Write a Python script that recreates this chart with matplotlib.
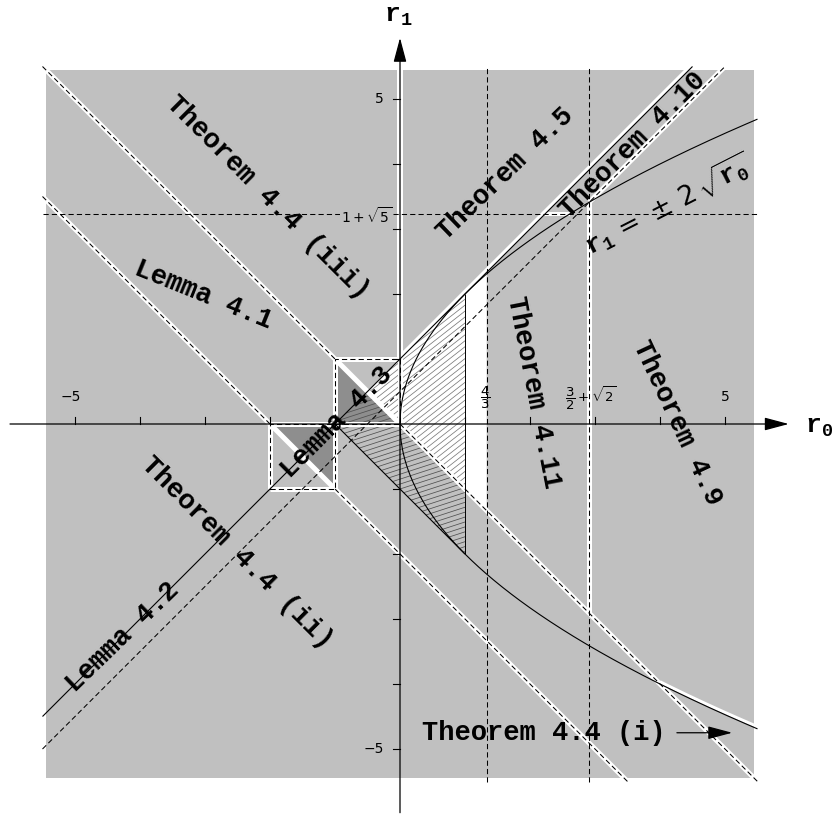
import numpy as np
import matplotlib
matplotlib.use("Agg")
import matplotlib.pyplot as plt
from matplotlib.patches import Polygon, Rectangle

plt.rcParams['mathtext.fontset'] = 'custom'
plt.rcParams['mathtext.rm'] = 'DejaVu Sans'
plt.rcParams['mathtext.it'] = 'DejaVu Sans:italic'
plt.rcParams['mathtext.tt'] = 'Liberation Mono:bold'

# ---------------- data ----------------
axis_ticks = [-5, -4, -3, -2, -1, 1, 2, 3, 4, 5]
labeled_ticks = [-5, 5]
half_width = 5.45          # shaded square
line_extent = 5.5          # reach of the boundary lines
axis_extent = 6.0
r0_four_thirds = 4 / 3
r0_crit = 1.5 + np.sqrt(2)   # r1 = r0 + 1/2 meets the parabola
r1_crit = 1 + np.sqrt(5)
tangent_up = 1.0            # r1 = r0 + 1   (tangent to parabola at (1, 2))
tangent_dn = -1.0           # r1 = -r0 - 1  (tangent to parabola at (1, -2))
tangent_r0 = 1.0
mid_intercept = 0.5         # r1 = r0 + 1/2
anti_intercepts = [0.0, -2.0]   # r1 = -r0 + c
box_corners = [(-1.0, 0.0), (-2.0, -1.0)]   # unit squares (lower-left corners)
parabola_white_from = 4.0
region_texts = ["Theorem 4.4 (iii)", "Lemma 4.1", "Theorem 4.5", "Theorem 4.10",
                "Theorem 4.11", "Theorem 4.9", "Lemma 4.3", "Lemma 4.2",
                "Theorem 4.4 (ii)", "Theorem 4.4 (i)"]

GRAY = '#c0c0c0'
DARK = '#8e8e8e'
PT = 0.72          # points per pixel at 100 dpi
PX = 1 / 65.0      # data units per pixel

fig = plt.figure(figsize=(8.37, 8.16), dpi=100)
ax = fig.add_axes([0, 0, 1, 1])
ax.set_xlim(-400 * PX, 437 * PX)
ax.set_ylim(-392 * PX, 424 * PX)
ax.axis('off')

DASH = (0, (5, 3))


def white_band(xs, ys, w=5, z=4):
    ax.plot(xs, ys, color='white', lw=w * PT, solid_capstyle='butt', zorder=z)


def dashed(xs, ys, z=5, lw=0.75):
    ax.plot(xs, ys, color='black', lw=lw, linestyle=DASH, zorder=z)


def solid(xs, ys, z=5, lw=0.8):
    ax.plot(xs, ys, color='black', lw=lw, zorder=z, solid_capstyle='butt')


def hatch(pts, angle, spacing, color):
    patch = Polygon(pts, closed=True, facecolor='none', edgecolor='none')
    ax.add_patch(patch)
    pts = np.asarray(pts)
    c = pts.mean(axis=0)
    R = np.max(np.linalg.norm(pts - c, axis=1)) + 0.2
    th = np.deg2rad(angle)
    d = np.array([np.cos(th), np.sin(th)])
    n = np.array([-np.sin(th), np.cos(th)])
    for off in np.arange(-R, R, spacing):
        p0 = c + n * off - d * R
        p1 = c + n * off + d * R
        ln, = ax.plot([p0[0], p1[0]], [p0[1], p1[1]], color=color, lw=0.55, zorder=3)
        ln.set_clip_path(patch)


# ---------------- base shading ----------------
ax.add_patch(Rectangle((-half_width, -half_width), 2 * half_width, 2 * half_width,
                       facecolor=GRAY, edgecolor='none', zorder=1))

# white wedge between r1 = -r0 and r1 = r0 + 1, up to r0 = 4/3
apex_r0 = (anti_intercepts[0] - tangent_up) / 2
apex = (apex_r0, apex_r0 + tangent_up)
ax.add_patch(Polygon([apex,
                      (r0_four_thirds, r0_four_thirds + tangent_up),
                      (r0_four_thirds, -r0_four_thirds + anti_intercepts[0])],
                     closed=True, facecolor='white', edgecolor='none', zorder=2))

# dark halves of the two unit boxes (inside the strip between the anti-diagonals)
bx, by = box_corners[0]
ax.add_patch(Polygon([(bx, by + 1), (bx, by), (bx + 1, by)], closed=True,
                     facecolor=DARK, edgecolor='none', zorder=2))
bx, by = box_corners[1]
ax.add_patch(Polygon([(bx, by + 1), (bx + 1, by + 1), (bx + 1, by)], closed=True,
                     facecolor=DARK, edgecolor='none', zorder=2))

# hatched triangle between the two tangents, r0 <= 1
t_left = (-1.0, 0.0)
hatch_A = [apex, (tangent_r0, tangent_r0 + tangent_up),
           (tangent_r0, -tangent_r0 + anti_intercepts[0])]
hatch_B = [t_left, apex, (tangent_r0, -tangent_r0 + anti_intercepts[0]),
           (tangent_r0, -tangent_r0 + tangent_dn)]
hatch(hatch_A, 38, 0.072, '#7a7a7a')
hatch(hatch_B, 18, 0.072, '#505050')

# ---------------- white boundaries ----------------
E = line_extent
# anti-diagonals r1 = -r0 + c
for c in anti_intercepts:
    lo = max(-E, c - E)
    hi = min(E, c + E)
    xs = np.array([lo, hi])
    white_band(xs, -xs + c)
# box borders
for (bx, by) in box_corners:
    sx = [bx, bx + 1, bx + 1, bx, bx]
    sy = [by, by, by + 1, by + 1, by]
    white_band(sx, sy)
    dashed(sx, sy)
# dashes of anti-diagonals outside the boxes
c0, c1 = anti_intercepts
dashed([-E, box_corners[0][0]], [E + c0, -box_corners[0][0] + c0])
dashed([0, E], [c0, -E + c0])
lo1 = max(-E, c1 - E)
dashed([lo1, box_corners[1][0]], [-lo1 + c1, -box_corners[1][0] + c1])
dashed([box_corners[1][0] + 1, c1 + E], [-(box_corners[1][0] + 1) + c1, -E])

# strip along the r1 axis above the upper box
white_band([0, 0], [box_corners[0][1] + 1, half_width], w=6)
# upper boundary of r1 = r0 + 1 (above the hatch / white wedge)
xs = np.array([0, E - tangent_up])
white_band(xs, xs + tangent_up + 0.04, w=3.5)
# boundary along r1 = 1 + sqrt(5) between the tangent and the parabola
white_band([r1_crit - tangent_up, (r1_crit / 2) ** 2], [r1_crit, r1_crit], w=4)
# vertical boundary at r0 = 3/2 + sqrt(2)
white_band([r0_crit, r0_crit], [-r0_crit, 2 * np.sqrt(r0_crit)], w=5)
# boundary along r1 = r0 + 1/2 beyond the parabola
xs = np.array([r0_crit, E - mid_intercept])
white_band(xs, xs + mid_intercept, w=5)
# lower parabola boundary beyond r0 = 4
pr = np.linspace(parabola_white_from, E, 100)
white_band(pr, -2 * np.sqrt(pr) + 0.035, w=3)

# ---------------- black lines ----------------
xs = np.array([-E, E - tangent_up])
solid(xs, xs + tangent_up)
xs = np.array([t_left[0], tangent_r0])
solid(xs, -xs + tangent_dn)
solid([tangent_r0, tangent_r0], [-tangent_r0 + tangent_dn, tangent_r0 + tangent_up], lw=0.7)
pr = np.linspace(0, E, 600)
solid(pr, 2 * np.sqrt(pr))
solid(pr, -2 * np.sqrt(pr))
xs = np.array([-E, E - mid_intercept])
dashed(xs, xs + mid_intercept)
dashed([r0_four_thirds] * 2, [-E, E])
dashed([r0_crit] * 2, [-E, E])
dashed([-E, E], [r1_crit, r1_crit])

# ---------------- axes ----------------
arrow = dict(arrowstyle='-|>,head_length=0.75,head_width=0.2', color='black',
             lw=0.9, mutation_scale=20, shrinkA=0, shrinkB=0)
ax.annotate('', xy=(axis_extent - 0.02, 0), xytext=(-axis_extent, 0),
            arrowprops=arrow, zorder=6)
ax.annotate('', xy=(0, axis_extent - 0.06), xytext=(0, -axis_extent + 0.02),
            arrowprops=arrow, zorder=6)
tk = 7 * PX
for t in axis_ticks:
    ax.plot([t, t], [0, tk], color='black', lw=0.8, zorder=6)
    ax.plot([-tk, 0], [t, t], color='black', lw=0.8, zorder=6)
for t in labeled_ticks:
    s = '5' if t > 0 else '\u22125'
    ax.text(t - (0.07 if t < 0 else 0), 27 * PX, s, fontsize=10, ha='center',
            va='center', zorder=7)
    ax.text(-16 * PX, t, s, fontsize=10, ha='right', va='center', zorder=7)

ax.text(-8 * PX, r1_crit - 0.03, r'$1+\sqrt{5}$', fontsize=10, ha='right', va='center',
        zorder=7, bbox=dict(facecolor=GRAY, edgecolor='none', pad=0.5))
ax.text(r0_four_thirds - 0.03, 0.40, r'$\dfrac{4}{3}$', fontsize=9.5, ha='center',
        va='center', zorder=7)
ax.text(r0_crit + 0.02, 0.40, r'$\dfrac{3}{2}+\sqrt{2}$', fontsize=9.5, ha='center',
        va='center', zorder=7)

ax.text(6.45, -0.03, r'$\mathtt{r}_{\mathtt{0}}$', fontsize=19, ha='center',
        va='center', zorder=7)
ax.text(-0.02, 6.29, r'$\mathtt{r}_{\mathtt{1}}$', fontsize=19, ha='center',
        va='center', zorder=7)

# ---------------- region labels ----------------
font = dict(family='Liberation Mono', weight='bold', fontsize=19.5,
            ha='center', va='center', rotation_mode='anchor', zorder=8)
placements = [(-2.03, 3.48, -45), (-3.03, 1.98, -22), (1.62, 3.85, 44),
              (3.58, 4.29, 45), (2.05, 0.49, -79), (4.26, 0.02, -65),
              (-0.97, 0.03, 45), (-4.26, -3.28, 44), (-2.51, -1.98, -45),
              (2.22, -4.75, 0)]
for txt, (x, y, rot) in zip(region_texts, placements):
    ax.text(x, y, txt, rotation=rot, **font)

ax.text(4.12, 3.38, r'$\mathtt{r}_{\mathtt{1}}\,=\,\pm\,2\,\sqrt{\mathtt{r}_{\mathtt{0}}}$',
        fontsize=19, rotation=27, ha='center', va='center', rotation_mode='anchor',
        zorder=8)
ax.annotate('', xy=(5.11, -4.75), xytext=(4.26, -4.75),
            arrowprops=dict(arrowstyle='-|>,head_length=0.75,head_width=0.2',
                            color='black', lw=0.9, mutation_scale=20,
                            shrinkA=0, shrinkB=0), zorder=8)

fig.savefig('out.png', dpi=100)
